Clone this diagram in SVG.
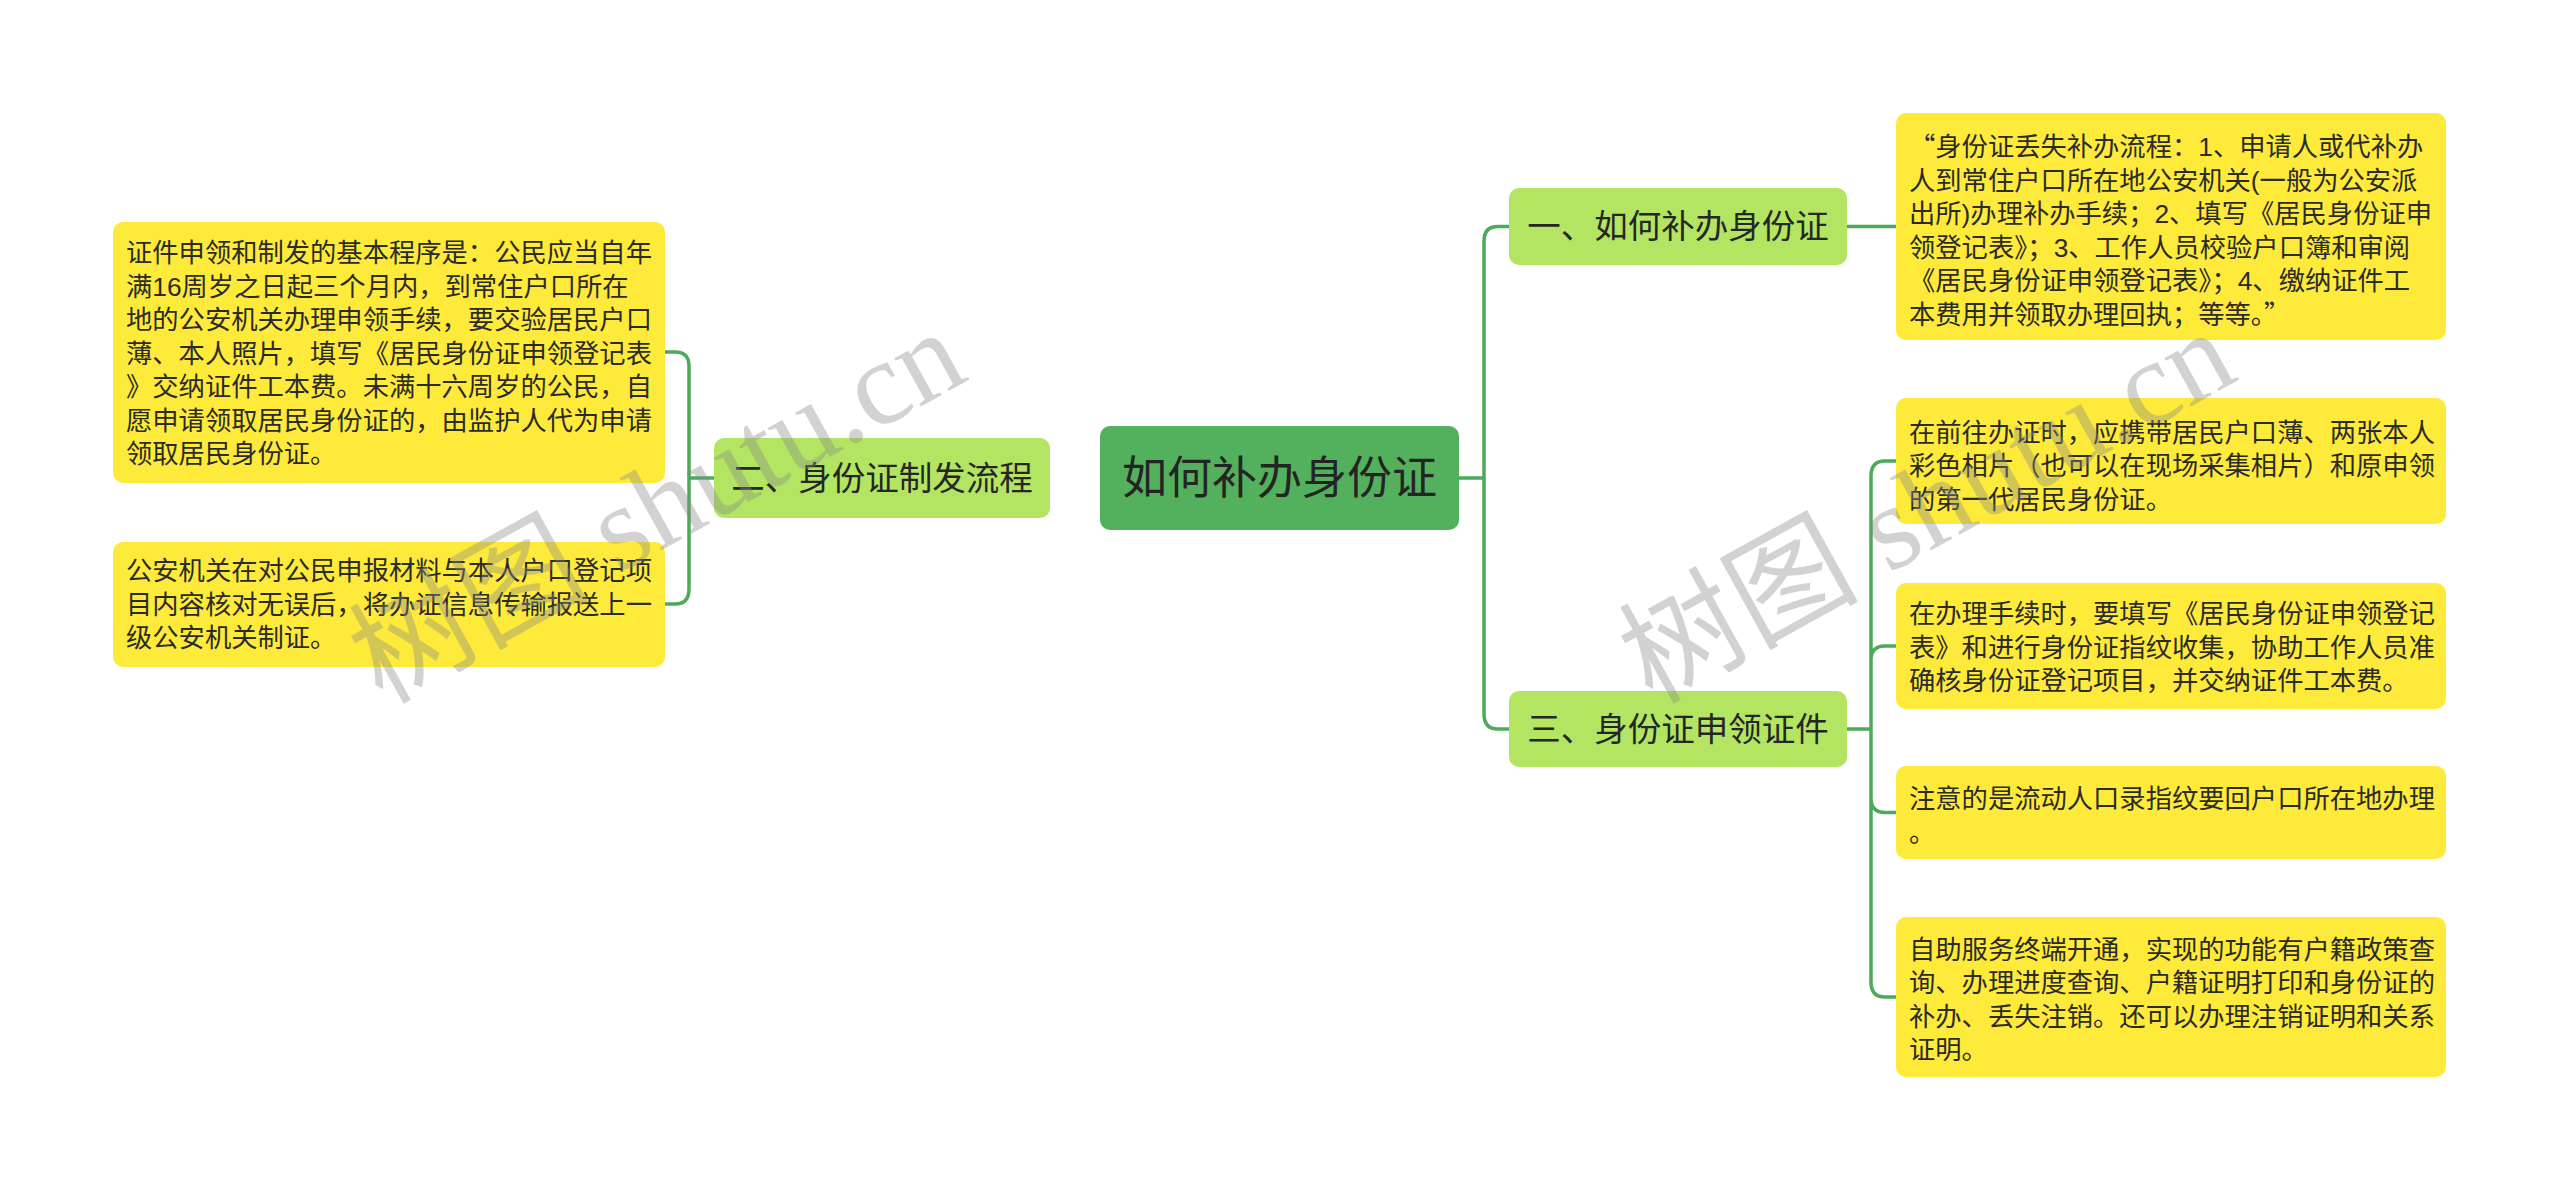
<svg xmlns="http://www.w3.org/2000/svg" width="2560" height="1190" viewBox="0 0 2560 1190">
<style>
.leaf{fill:#fdea3b}
.l1{fill:#b3e562}
.root{fill:#53b05d}
.t{font-family:"Liberation Sans","Noto Sans CJK SC",sans-serif;font-size:26.3px;fill:#2b2b2b}
.cjk{font-family:"Noto Sans CJK SC",sans-serif}
.t1{font-family:"Liberation Sans","Noto Sans CJK SC",sans-serif;font-size:33.5px;fill:#262626;text-anchor:middle}
.t0{font-family:"Liberation Sans","Noto Sans CJK SC",sans-serif;font-size:45px;fill:#242424;text-anchor:middle}
.c{fill:none;stroke:#4caa5a;stroke-width:3.5}
.wm{font-family:"Liberation Serif","Noto Sans CJK SC",serif;font-size:120px;fill:#888;fill-opacity:0.38}
</style>
<rect width="2560" height="1190" fill="#fff"/>
<g id="connectors">
<path class="c" d="M1459 478 H1484 M1484 478 V241 Q1484 226.5 1498 226.5 H1509 M1484 478 V714 Q1484 729 1498 729 H1509"/>
<path class="c" d="M714 478 H689 M689 478 V366 Q689 352 675 352 H665 M689 478 V589 Q689 604 675 604 H665"/>
<path class="c" d="M1847 226.5 H1896"/>
<path class="c" d="M1847 729 H1871 M1871 729 V476 Q1871 461 1885 461 H1896 M1871 729 V660 Q1871 646 1885 646 H1896 M1871 729 V798 Q1871 812.5 1885 812.5 H1896 M1871 729 V982 Q1871 997 1885 997 H1896"/>
</g>
<g id="root">
<rect class="root" x="1100" y="426" width="359" height="104" rx="10"/>
<text class="t0" x="1279.5" y="494">如何补办身份证</text>
</g>
<g id="n2">
<rect class="l1" x="714" y="438" width="336" height="80" rx="10"/>
<text class="t1" x="882" y="489.5">二、身份证制发流程</text>
</g>
<g id="n1">
<rect class="l1" x="1509" y="188" width="338" height="77" rx="10"/>
<text class="t1" x="1678" y="238">一、如何补办身份证</text>
</g>
<g id="n3">
<rect class="l1" x="1509" y="691" width="338" height="76" rx="10"/>
<text class="t1" x="1678" y="740.5">三、身份证申领证件</text>
</g>
<g id="leaf-l1">
<rect class="leaf" x="113" y="222" width="552" height="261" rx="10"/>
<text class="t">
<tspan x="126" y="262">证件申领和制发的基本程序是：公民应当自年</tspan>
<tspan x="126" y="295.5">满16周岁之日起三个月内，到常住户口所在</tspan>
<tspan x="126" y="329">地的公安机关办理申领手续，要交验居民户口</tspan>
<tspan x="126" y="362.5">薄、本人照片，填写《居民身份证申领登记表</tspan>
<tspan x="126" y="396">》交纳证件工本费。未满十六周岁的公民，自</tspan>
<tspan x="126" y="429.5">愿申请领取居民身份证的，由监护人代为申请</tspan>
<tspan x="126" y="463">领取居民身份证。</tspan>
</text>
</g>
<g id="leaf-l2">
<rect class="leaf" x="113" y="542" width="552" height="125" rx="10"/>
<text class="t">
<tspan x="126" y="580">公安机关在对公民申报材料与本人户口登记项</tspan>
<tspan x="126" y="613.5">目内容核对无误后，将办证信息传输报送上一</tspan>
<tspan x="126" y="647">级公安机关制证。</tspan>
</text>
</g>
<g id="leaf-r1">
<rect class="leaf" x="1896" y="113" width="550" height="227" rx="10"/>
<text class="t">
<tspan x="1909" y="156"><tspan class="cjk">“</tspan>身份证丢失补办流程：1、申请人或代补办</tspan>
<tspan x="1909" y="189.5">人到常住户口所在地公安机关(一般为公安派</tspan>
<tspan x="1909" y="223">出所)办理补办手续；2、填写《居民身份证申</tspan>
<tspan x="1909" y="256.5">领登记表》；3、工作人员校验户口簿和审阅</tspan>
<tspan x="1909" y="290">《居民身份证申领登记表》；4、缴纳证件工</tspan>
<tspan x="1909" y="323.5">本费用并领取办理回执；等等。<tspan class="cjk">”</tspan></tspan>
</text>
</g>
<g id="leaf-r2">
<rect class="leaf" x="1896" y="398" width="550" height="126" rx="10"/>
<text class="t">
<tspan x="1909" y="441.5">在前往办证时，应携带居民户口薄、两张本人</tspan>
<tspan x="1909" y="475">彩色相片（也可以在现场采集相片）和原申领</tspan>
<tspan x="1909" y="508.5">的第一代居民身份证。</tspan>
</text>
</g>
<g id="leaf-r3">
<rect class="leaf" x="1896" y="583" width="550" height="126" rx="10"/>
<text class="t">
<tspan x="1909" y="623">在办理手续时，要填写《居民身份证申领登记</tspan>
<tspan x="1909" y="656.5">表》和进行身份证指纹收集，协助工作人员准</tspan>
<tspan x="1909" y="690">确核身份证登记项目，并交纳证件工本费。</tspan>
</text>
</g>
<g id="leaf-r4">
<rect class="leaf" x="1896" y="766" width="550" height="93" rx="10"/>
<text class="t">
<tspan x="1909" y="808">注意的是流动人口录指纹要回户口所在地办理</tspan>
<tspan x="1909" y="841.5">。</tspan>
</text>
</g>
<g id="leaf-r5">
<rect class="leaf" x="1896" y="917" width="550" height="160" rx="10"/>
<text class="t">
<tspan x="1909" y="958.5">自助服务终端开通，实现的功能有户籍政策查</tspan>
<tspan x="1909" y="992">询、办理进度查询、户籍证明打印和身份证的</tspan>
<tspan x="1909" y="1025.5">补办、丢失注销。还可以办理注销证明和关系</tspan>
<tspan x="1909" y="1059">证明。</tspan>
</text>
</g>
<g id="watermarks">
<text class="wm" transform="translate(382 705) rotate(-29)">树图 shutu.cn</text>
<text class="wm" transform="translate(1652 705) rotate(-29)">树图 shutu.cn</text>
</g>
</svg>
